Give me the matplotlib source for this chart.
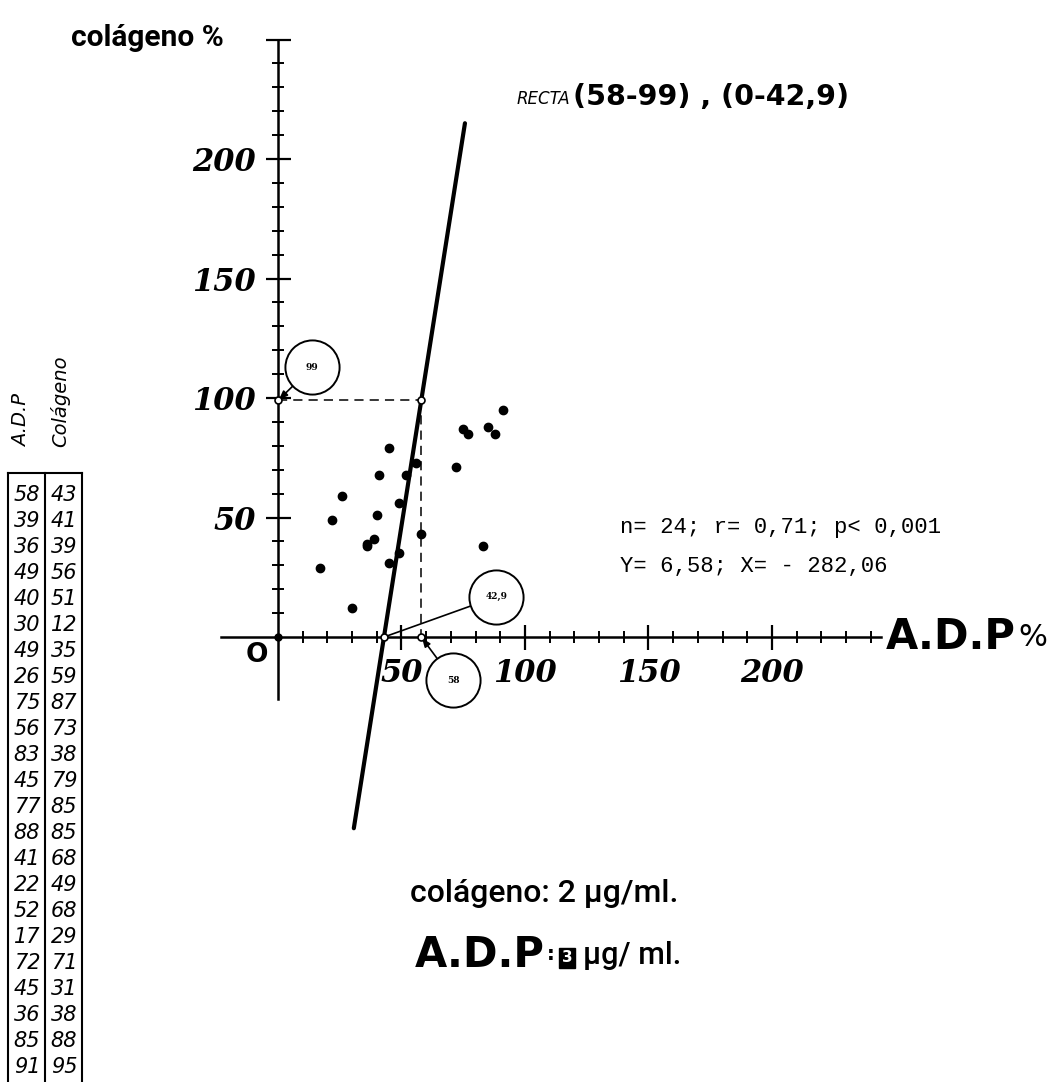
import matplotlib
matplotlib.use('Agg')
import matplotlib.pyplot as plt
from matplotlib.transforms import offset_copy
import numpy as np

# table values: A.D.P % vs colágeno %
adp = [58, 39, 36, 49, 40, 30, 49, 26, 75, 56, 83, 45, 77, 88, 41, 22, 52, 17, 72, 45, 36, 85, 91]
colageno = [43, 41, 39, 56, 51, 12, 35, 59, 87, 73, 38, 79, 85, 85, 68, 49, 68, 29, 71, 31, 38, 88, 95]

# regression line defined by its two reference points
recta_x = [42.9, 58]
recta_y = [0, 99]
recta_y_span = [-80, 215]

x_ticks = [50, 100, 150, 200]
x_minor = [10, 20, 30, 40, 60, 70, 80, 90, 110, 120, 130, 140, 160, 170, 180, 190, 210, 220, 230, 240]
y_ticks = [50, 100, 150, 200, 250]
y_tick_labels = ['50', '100', '150', '200', '']
y_minor = [10, 20, 30, 40, 60, 70, 80, 90, 110, 120, 130, 140, 160, 170, 180, 190, 210, 220, 230, 240]

stats_lines = ["n= 24; r= 0,71; p< 0,001", "Y= 6,58; X= - 282,06"]

W, H = 1055, 1082
fig = plt.figure(figsize=(W / 100, H / 100), dpi=100)
fig.patch.set_facecolor('white')

# overlay in pixel units for the free text and the table
ov = fig.add_axes([0, 0, 1, 1])
ov.set_xlim(0, W)
ov.set_ylim(H, 0)
ov.axis('off')

ax = fig.add_axes([216.25 / W, 1 - 840.2 / H, 664.4 / W, 805.4 / H])
ax.set_xlim(-25, 244)
ax.set_ylim(-85, 252)
ax.patch.set_alpha(0)
for s in ['top', 'right']:
    ax.spines[s].set_visible(False)
ax.spines['left'].set_position(('data', 0))
ax.spines['bottom'].set_position(('data', 0))
ax.spines['left'].set_bounds(-26, 250)
ax.spines['bottom'].set_bounds(-23, 244)
for s in ['left', 'bottom']:
    ax.spines[s].set_linewidth(1.8)

tick_font = dict(family='DejaVu Serif', weight='bold', style='italic', size=22)
ax.set_xticks(x_ticks)
ax.set_xticklabels([str(t) for t in x_ticks], fontdict=tick_font)
ax.set_xticks(x_minor, minor=True)
ax.set_yticks(y_ticks)
ax.set_yticklabels(y_tick_labels, fontdict=tick_font)
ax.set_yticks(y_minor, minor=True)
ax.tick_params(which='major', direction='inout', length=18, width=1.6)
ax.tick_params(which='minor', direction='inout', length=9, width=1.4)
ax.tick_params(axis='y', which='major', pad=7)
ax.tick_params(axis='x', which='major', pad=6)

# regression line
slope = (recta_x[1] - recta_x[0]) / (recta_y[1] - recta_y[0])
ly = np.array(recta_y_span)
lx = recta_x[0] + (ly - recta_y[0]) * slope
ax.plot(lx, ly, color='black', lw=3, solid_capstyle='round', zorder=4)

# dashed guides to the reference point
ax.plot([0, recta_x[1]], [recta_y[1], recta_y[1]], color='black', lw=1.1,
        dashes=(6, 4), zorder=3)
ax.plot([recta_x[1], recta_x[1]], [recta_y[1], 0], color='black', lw=1.1,
        dashes=(6, 4), zorder=3)

# data points
ax.plot(adp, colageno, 'o', color='black', ms=6, zorder=5, clip_on=False)

# origin dot and open reference markers
ax.plot([0], [0], 'o', color='black', ms=5, zorder=6)
ax.plot([0, recta_x[1], recta_x[0], recta_x[1]], [recta_y[1], recta_y[1], 0, 0], 'o',
        ms=5, mfc='white', mec='black', mew=1.2, zorder=7)

# circled callouts
callouts = [
    ('99', (0, recta_y[1]), (24.5, 23.8), '-|>'),
    ('42,9', (recta_x[0], 0), (81, 29), '-'),
    ('58', (recta_x[1], 0), (23, -31), '-|>'),
]
for label, xy, off, style in callouts:
    ax.annotate('', xy=xy, xytext=off, textcoords='offset points',
                arrowprops=dict(arrowstyle=style if style == '-' else '-|>,head_length=0.5,head_width=0.2',
                                color='black', lw=1.2, shrinkA=0, shrinkB=1),
                zorder=6)
    tr = offset_copy(ax.transData, fig=fig, x=off[0], y=off[1], units='points')
    ax.plot([xy[0]], [xy[1]], 'o', ms=39, mfc='white', mec='black', mew=1.4,
            transform=tr, zorder=8, clip_on=False)
    ax.text(xy[0], xy[1], label, transform=tr, ha='center', va='center',
            fontsize=6.5, fontweight='bold', family='DejaVu Serif', zorder=9)

# axis titles and labels
ov.text(147, 38, 'colágeno %', family='Roboto', weight='bold', fontsize=21.5,
        ha='center', va='center')
ov.text(886, 637, 'A.D.P', family='DejaVu Sans', weight='bold', fontsize=30,
        ha='left', va='center')
ov.text(1018, 637, '%', family='DejaVu Sans', fontsize=22, ha='left', va='center')
ov.text(257, 655, 'O', family='DejaVu Sans', weight='bold', fontsize=19,
        ha='center', va='center')

ov.text(570, 99, 'RECTA', family='DejaVu Sans', style='italic', fontsize=12,
        ha='right', va='center')
ov.text(573, 97, '(58-99) , (0-42,9)', family='DejaVu Sans', weight='bold',
        fontsize=20.5, ha='left', va='center')

for i, line in enumerate(stats_lines):
    ov.text(620, 528 + i * 38, line, family='Liberation Mono', fontsize=16,
            ha='left', va='center')

# bottom notes
ov.text(410, 893, 'colágeno: 2 µg/ml.', family='Roboto', weight='medium',
        fontsize=23, ha='left', va='center')
ov.text(415, 955, 'A.D.P', family='DejaVu Sans', weight='bold', fontsize=30,
        ha='left', va='center')
ov.text(551, 955, ':', family='DejaVu Sans', weight='bold', fontsize=14,
        ha='center', va='center')
ov.text(567, 958, '3', family='DejaVu Sans', weight='bold', fontsize=11, color='white',
        ha='center', va='center',
        bbox=dict(boxstyle='square,pad=0.15', fc='black', ec='black'))
ov.text(583, 955, 'µg/ ml.', family='Roboto', weight='medium', fontsize=22,
        ha='left', va='center')

# data table on the left
tx0, tx1, tx2 = 8, 45, 82
ty0 = 473
ov.plot([tx0, tx2], [ty0, ty0], color='black', lw=1.5)
for x in (tx0, tx1, tx2):
    ov.plot([x, x], [ty0, H], color='black', lw=1.5)
ov.text(22, 447, 'A.D.P', family='DejaVu Sans', style='italic', fontsize=14,
        rotation=90, ha='center', va='bottom')
ov.text(60, 447, 'Colágeno', family='DejaVu Sans', style='italic', fontsize=14,
        rotation=90, ha='center', va='bottom')
for i, (a, c) in enumerate(zip(adp, colageno)):
    yy = 495 + i * 26.0
    ov.text(27, yy, str(a), family='DejaVu Sans', style='italic', fontsize=15,
            ha='center', va='center')
    ov.text(64, yy, str(c), family='DejaVu Sans', style='italic', fontsize=15,
            ha='center', va='center')

fig.savefig('out.png', dpi=100, facecolor='white')
